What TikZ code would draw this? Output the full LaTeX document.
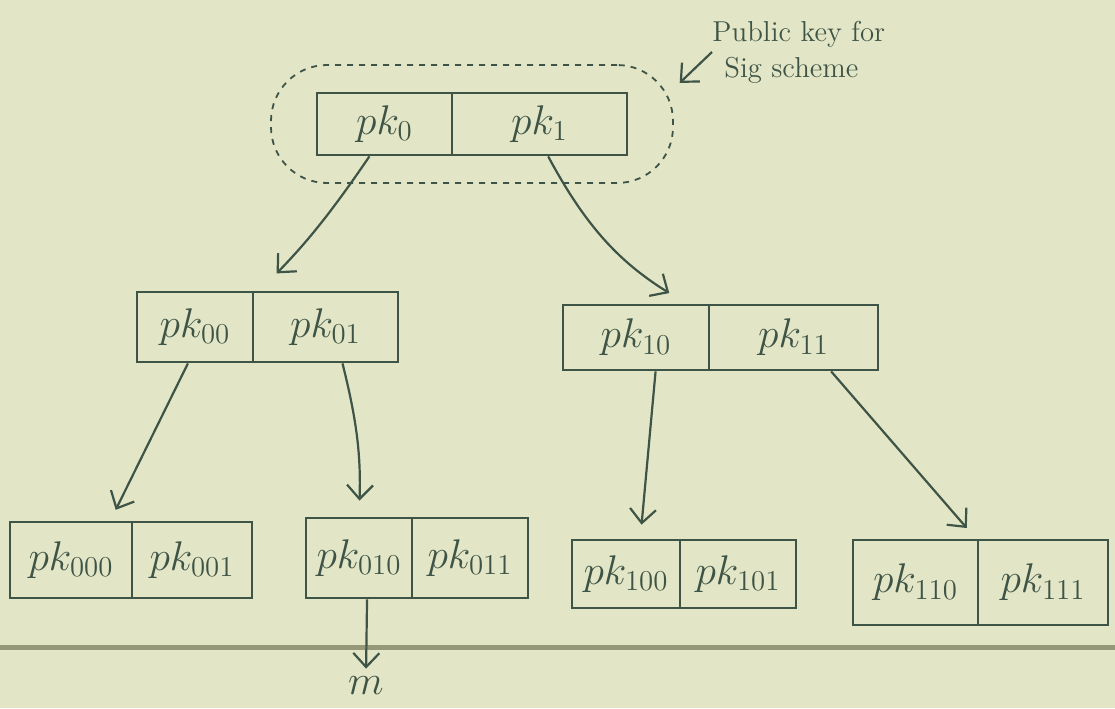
\documentclass[tikz,border=0pt]{standalone}
\usetikzlibrary{arrows.meta}
\definecolor{paper}{RGB}{227,230,198}
\definecolor{ink}{RGB}{62,84,70}
\definecolor{rule}{RGB}{150,153,120}
\begin{document}
\begin{tikzpicture}[x=0.5pt,y=-0.5pt,
cell/.style={draw=ink, line width=1.4pt, inner sep=0pt, text=ink, font=\huge},
link/.style={draw=ink, line width=1.1pt, -{Straight Barb[length=7pt,width=13pt]}},
]
\fill[paper] (0,0) rectangle (1115,708);
\useasboundingbox (0,0) rectangle (1115,708);
\draw[rule, line width=2.5pt] (0,647) -- (1115,647);
\node[draw=ink, dashed, line width=0.9pt, rounded corners=28pt, minimum width=201pt, minimum height=59pt] (keyell) at (472,124) {};
\node[text=ink, font=\Large, align=left, anchor=west, inner sep=0pt] (pubkey) at (712,52) {Public key for\\\hspace{6pt}Sig scheme};
\node[cell, minimum width=67.5pt, minimum height=31pt] (pk0) at (384.5,124) {$pk_{0}$};
\node[cell, minimum width=87.5pt, minimum height=31pt] (pk1) at (539.5,124) {$pk_{1}$};
\node[cell, minimum width=58pt, minimum height=35pt] (pk00) at (195,327) {$pk_{00}$};
\node[cell, minimum width=72.5pt, minimum height=35pt] (pk01) at (325.5,327) {$pk_{01}$};
\node[cell, minimum width=73pt, minimum height=32.5pt] (pk10) at (636,337.5) {$pk_{10}$};
\node[cell, minimum width=84.5pt, minimum height=32.5pt] (pk11) at (793.5,337.5) {$pk_{11}$};
\node[cell, minimum width=61pt, minimum height=38pt] (pk000) at (71,560) {$pk_{000}$};
\node[cell, minimum width=60pt, minimum height=38pt] (pk001) at (192,560) {$pk_{001}$};
\node[cell, minimum width=53pt, minimum height=40pt] (pk010) at (359,558) {$pk_{010}$};
\node[cell, minimum width=58pt, minimum height=40pt] (pk011) at (470,558) {$pk_{011}$};
\node[cell, minimum width=54pt, minimum height=34pt] (pk100) at (626,574) {$pk_{100}$};
\node[cell, minimum width=58pt, minimum height=34pt] (pk101) at (738,574) {$pk_{101}$};
\node[cell, minimum width=62.5pt, minimum height=42.5pt] (pk110) at (915.5,582.5) {$pk_{110}$};
\node[cell, minimum width=65pt, minimum height=42.5pt] (pk111) at (1043,582.5) {$pk_{111}$};
\node[text=ink, font=\huge, inner sep=1pt] (msg) at (366,686) {$m$};
\draw[link, shorten >=4pt] (pubkey.west) -- (keyell.10);
\draw[link, shorten >=12pt] (pk0.245) to[bend left=5] (pk01.151);
\draw[link, shorten >=10pt] (pk1.285) to[bend right=15] (pk10.34);
\draw[link, shorten >=6pt] (pk00.259) -- (pk000.45);
\draw[link, shorten >=8pt] (pk01.295) to[bend left=8] (pk010.north);
\draw[link, shorten >=7pt] (pk10.300) -- (pk100.68);
\draw[link, shorten >=7pt] (pk11.318) -- (pk110.36);
\draw[link, shorten >=3pt] (pk010.281) -- (msg.north);
\end{tikzpicture}
\end{document}
